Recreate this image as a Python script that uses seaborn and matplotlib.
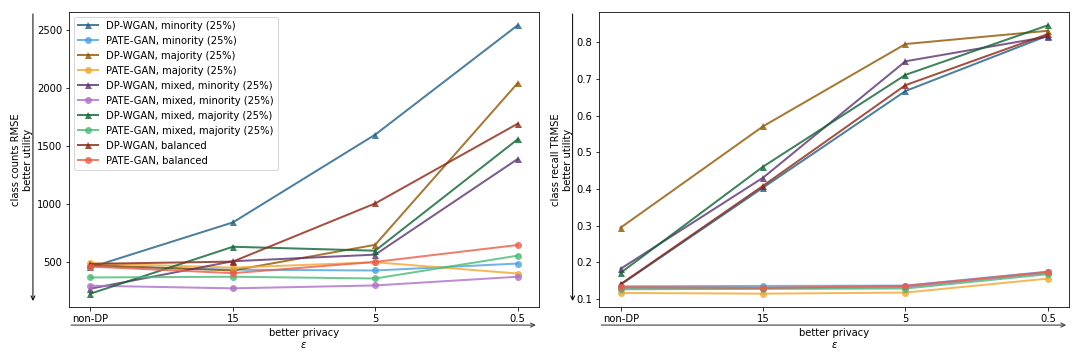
import matplotlib
matplotlib.use("Agg")
import matplotlib.pyplot as plt
import seaborn as sns
import pandas as pd

eps_labels = ["non-DP", "15", "5", "0.5"]

series_names = [
    "DP-WGAN, minority (25%)",
    "PATE-GAN, minority (25%)",
    "DP-WGAN, majority (25%)",
    "PATE-GAN, majority (25%)",
    "DP-WGAN, mixed, minority (25%)",
    "PATE-GAN, mixed, minority (25%)",
    "DP-WGAN, mixed, majority (25%)",
    "PATE-GAN, mixed, majority (25%)",
    "DP-WGAN, balanced",
    "PATE-GAN, balanced",
]

# class counts RMSE
counts_dpwgan_minority = [450, 838, 1596, 2540]
counts_pategan_minority = [460, 430, 423, 483]
counts_dpwgan_majority = [470, 423, 645, 2040]
counts_pategan_majority = [486, 448, 494, 397]
counts_dpwgan_mixed_minority = [266, 503, 560, 1385]
counts_pategan_mixed_minority = [292, 269, 294, 369]
counts_dpwgan_mixed_majority = [223, 628, 594, 1555]
counts_pategan_mixed_majority = [363, 369, 354, 551]
counts_dpwgan_balanced = [480, 500, 1002, 1690]
counts_pategan_balanced = [457, 400, 497, 643]

# class recall TRMSE
recall_dpwgan_minority = [0.140, 0.404, 0.667, 0.818]
recall_pategan_minority = [0.135, 0.136, 0.137, 0.175]
recall_dpwgan_majority = [0.295, 0.571, 0.795, 0.831]
recall_pategan_majority = [0.117, 0.115, 0.118, 0.156]
recall_dpwgan_mixed_minority = [0.183, 0.431, 0.748, 0.815]
recall_pategan_mixed_minority = [0.130, 0.130, 0.133, 0.172]
recall_dpwgan_mixed_majority = [0.172, 0.461, 0.711, 0.846]
recall_pategan_mixed_majority = [0.127, 0.128, 0.129, 0.168]
recall_dpwgan_balanced = [0.141, 0.409, 0.683, 0.822]
recall_pategan_balanced = [0.133, 0.131, 0.136, 0.174]

counts = [counts_dpwgan_minority, counts_pategan_minority, counts_dpwgan_majority,
          counts_pategan_majority, counts_dpwgan_mixed_minority, counts_pategan_mixed_minority,
          counts_dpwgan_mixed_majority, counts_pategan_mixed_majority, counts_dpwgan_balanced,
          counts_pategan_balanced]
recalls = [recall_dpwgan_minority, recall_pategan_minority, recall_dpwgan_majority,
           recall_pategan_majority, recall_dpwgan_mixed_minority, recall_pategan_mixed_minority,
           recall_dpwgan_mixed_majority, recall_pategan_mixed_majority, recall_dpwgan_balanced,
           recall_pategan_balanced]

colors = ["#1d5f88", "#4aa1e0", "#925600", "#f2a731", "#5c316f",
          "#ae6fc7", "#0b6331", "#4aba76", "#8e2411", "#ec5c4a"]
markers = ["^", "o"] * 5

fig = plt.figure(figsize=(15, 5), dpi=72)
ax1 = fig.add_axes([0.064, 0.147, 0.435, 0.820])
ax2 = fig.add_axes([0.555, 0.147, 0.435, 0.820])


def draw(ax, data, ylabel, legend):
    for name, vals, c, m in zip(series_names, data, colors, markers):
        df = pd.DataFrame({"eps": eps_labels, "val": vals})
        sns.lineplot(data=df, x="eps", y="val", ax=ax, color=c, marker=m,
                     markersize=7, markeredgewidth=0, linewidth=2, alpha=0.8,
                     sort=False, label=name if legend else None)
    ax.set_ylabel(ylabel)
    ax.set_xlabel("better privacy\n$\\epsilon$")


draw(ax1, counts, "class counts RMSE\nbetter utility", True)
draw(ax2, recalls, "class recall TRMSE\nbetter utility", False)

ax1.legend(loc="upper left", fontsize=10)
if ax2.get_legend() is not None:
    ax2.get_legend().remove()

for ax, xa in ((ax1, -0.077), (ax2, -0.057)):
    ax.annotate("", xy=(xa, 0.014), xytext=(xa, 1.0), xycoords="axes fraction",
                arrowprops=dict(arrowstyle="->", color="black", lw=1.0), annotation_clip=False)
    ax.annotate("", xy=(0.998, -0.061), xytext=(0.0, -0.061), xycoords="axes fraction",
                arrowprops=dict(arrowstyle="->", color="0.3", lw=1.2), annotation_clip=False)

fig.savefig("out.png", dpi=72)
